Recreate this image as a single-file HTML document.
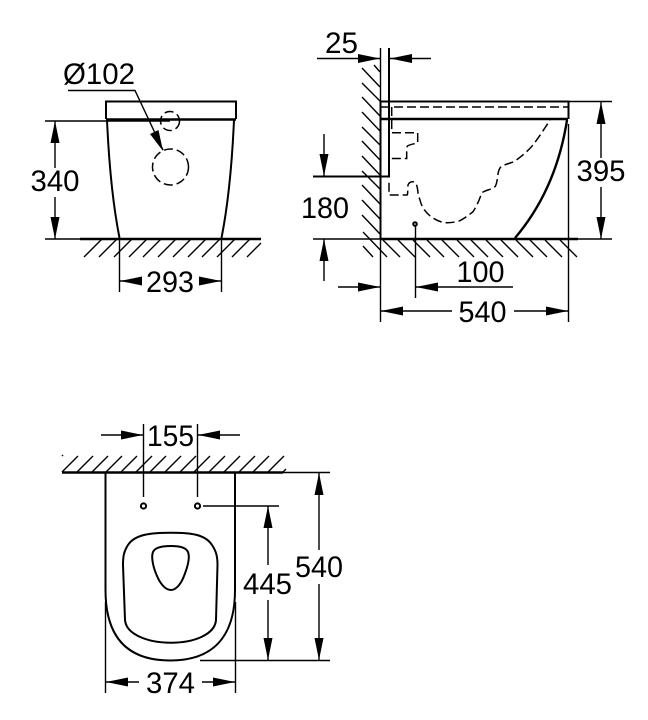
<!DOCTYPE html>
<html><head><meta charset="utf-8"><style>
html,body{margin:0;padding:0;background:#fff}
svg{display:block}
text{font-family:"Liberation Sans",sans-serif;font-size:30px;fill:#000}
.t{stroke:#000;stroke-width:1.4;fill:none}
.m{stroke:#000;stroke-width:2;fill:none}
.k{stroke:#000;stroke-width:2.4;fill:none}
.d{stroke:#000;stroke-width:1.5;fill:none;stroke-dasharray:9 4}
.a{fill:#000;stroke:none}
</style></head><body>
<svg width="648" height="720" viewBox="0 0 648 720" xmlns="http://www.w3.org/2000/svg">
<!-- left view -->
<text x="63" y="84" textLength="72" lengthAdjust="spacingAndGlyphs">Ø102</text>
<path class="t" d="M68 90.5H135L163 150"/>
<path class="a" d="M163 151L150 134L158.500 130Z"/>
<path class="m" d="M106 119V101.5H236V119"/>
<path class="k" d="M106 119.5H236"/>
<path class="t" d="M45 121H170"/>
<circle class="d" cx="170" cy="121" r="9.5" stroke-dasharray="6 3"/>
<circle class="d" cx="170.5" cy="167" r="18" stroke-dasharray="9 4"/>
<path class="m" d="M107 120C109 165 113 205 119.5 238M234 120C232 165 228 205 221.5 238"/>
<path class="t" d="M45 239H80M55 121V168M55 197V239"/>
<path class="a" d="M55 121L50.500 143H59.500ZM55 239L50.500 217H59.500Z"/>
<text x="30.500" y="191" textLength="49" lengthAdjust="spacingAndGlyphs">340</text>
<path class="k" d="M80 239H261"/>
<path class="t" d="M84 257L102 239M99 257L117 239M114 257L132 239M129 257L147 239M143 257L161 239M158 257L176 239M173 257L191 239M188 257L206 239M202 257L220 239M217 257L235 239M232 257L250 239M247 257L261 243"/>
<path class="t" d="M119.5 239V292M221.5 239V292M120 281H141M200 281H221"/>
<path class="a" d="M120 281L142 276.500V285.500ZM221 281L199 276.500V285.500Z"/>
<text x="146" y="292" textLength="48" lengthAdjust="spacingAndGlyphs">293</text>

<!-- right view -->
<text x="325" y="53" textLength="33" lengthAdjust="spacingAndGlyphs">25</text>
<path class="t" d="M317 58.5H380M390 58.5H431M380.5 48V322M568.5 124V322"/>
<path class="a" d="M380 58.5L358 54V63ZM390 58.5L412 54V63Z"/>
<path class="m" d="M389 48V176.5H313M380.5 101V239"/>
<path class="t" d="M374 65L380 72M362 68L380 87M362 83L380 101M362 97L380 116M362 112L380 131M362 127L380 145M362 141L380 160M362 156L380 175M362 171L380 189M362 185L380 204M362 200L380 219M362 215L380 234M363 232L387 257M363 246L373 257"/>
<path class="m" d="M380 101.5H568.5V119"/>
<path class="k" d="M381 119H568"/>
<path class="d" d="M381 107H568" stroke-dasharray="12 5"/>
<path class="d" d="M391.700 107V132.700H417.700V142.700C417.700 143.500 410 144 407.500 146C406.500 147 406.700 150 406.700 158.500H389" stroke-dasharray="8 3"/>
<path class="d" d="M389 182.700V195H407C408 195 407.500 190 408 185C409 182 411 181.700 412.700 181.700C416 181.700 417 185 417.700 190C418 195 419 197 420 200C421 204 422 206 423 208C427 214 430 216 433 218C438 221 442 222.700 447 222.700C452 222.700 456 222 460 220.700C465 218 469 215 473 211.700C477 206 480 198 481.700 193C485 190 491 190 495 186.700C498 183 497 172 500 168C503 164 510 164 515 161C522 156 528 151 533 145C539 137 545 128 550 120" stroke-dasharray="9 4"/>
<path class="k" d="M567 120C560 165 543 205 515 238"/>
<path class="k" d="M380 239H578"/>
<path class="t" d="M313 239H380M578 239H612M568 101.5H612M601 101.5V158M601 187V239"/>
<path class="a" d="M601 102L596.500 124H605.500ZM601 239L596.500 217H605.500Z"/>
<text x="576.500" y="181" textLength="49" lengthAdjust="spacingAndGlyphs">395</text>
<path class="t" d="M324 134V176M324 239V281"/>
<path class="a" d="M324 176L319.500 154H328.500ZM324 239L319.500 261H328.500Z"/>
<text x="301" y="218" textLength="48" lengthAdjust="spacingAndGlyphs">180</text>
<path class="t" d="M398 240L415 257M413 240L430 257M427 240L444 257M442 240L459 257M457 240L474 257M471 240L488 257M486 240L503 257M501 240L518 257M516 240L533 257M530 240L547 257M545 240L562 257M560 240L577 257M383 240L400 257"/>
<circle class="m" cx="415" cy="224" r="1.8"/>
<path class="t" d="M415.5 226V298M338 287H380M415.5 287H513"/>
<path class="a" d="M380 287L358 282.500V291.500ZM416 287L438 282.500V291.500Z"/>
<text x="456.500" y="282" textLength="48" lengthAdjust="spacingAndGlyphs">100</text>
<path class="t" d="M381 311H452M514 311H568"/>
<path class="a" d="M381 311L403 306.500V315.500ZM568 311L546 306.500V315.500Z"/>
<text x="458.500" y="322" textLength="48" lengthAdjust="spacingAndGlyphs">540</text>

<!-- bottom view -->
<path class="k" d="M62 472.5H283"/>
<path class="t" d="M283 472.5H330"/>
<path class="t" d="M62 456L63 455M62 472L78 456M77 472L93 456M92 472L108 456M106 472L122 456M121 472L137 456M136 472L152 456M150 472L166 456M165 472L181 456M180 472L196 456M194 472L210 456M209 472L225 456M224 472L240 456M239 472L255 456M253 472L269 456M268 472L284 456M283 472L286 469"/>
<path class="t" d="M143.5 424V497M197.5 424V497M101 435H143M198 435H240"/>
<path class="a" d="M143 435L121 430.500V439.500ZM198 435L220 430.500V439.500Z"/>
<text x="147" y="446" textLength="47" lengthAdjust="spacingAndGlyphs">155</text>
<circle class="m" cx="143.5" cy="506" r="2.6"/>
<circle class="m" cx="197.5" cy="506" r="2.6"/>
<path class="t" d="M203 506H279"/>
<path class="m" d="M105.5 473V590C105.5 640 130 660.500 170 660.500C210 660.500 235 640 235 590V473"/>
<path class="t" d="M105.5 602V693M235.5 602V693M200 660.5H330"/>
<path class="m" d="M171 532.700C190 532.700 205 534 212 545C216 551 217.500 556 217.500 565L216 620C215 634 195 642.700 171 642.700C147 642.700 126 634 125 620L123 565C123 556 124 551 128 545C135 534 152 532.700 171 532.700Z"/>
<path class="m" d="M171 546C178 546 186 547 188 552C190 557 188 566 184 576C181 584 176 590 171 590C165 590 160 583 157 576C153 567 151 557 153 552C155 547 163 546 171 546Z"/>
<path class="t" d="M268 506V565M268 600V660M319 473V550M319 584V660"/>
<path class="a" d="M268 506L263.500 528H272.500ZM268 660L263.500 638H272.500ZM319 473L314.500 495H323.500ZM319 660L314.500 638H323.500Z"/>
<text x="243" y="594" textLength="49" lengthAdjust="spacingAndGlyphs">445</text>
<text x="295" y="577" textLength="48" lengthAdjust="spacingAndGlyphs">540</text>
<path class="t" d="M106 682H139M202 682H235"/>
<path class="a" d="M106 682L128 677.500V686.500ZM235 682L213 677.500V686.500Z"/>
<text x="146" y="693" textLength="49" lengthAdjust="spacingAndGlyphs">374</text>
</svg>
</body></html>
